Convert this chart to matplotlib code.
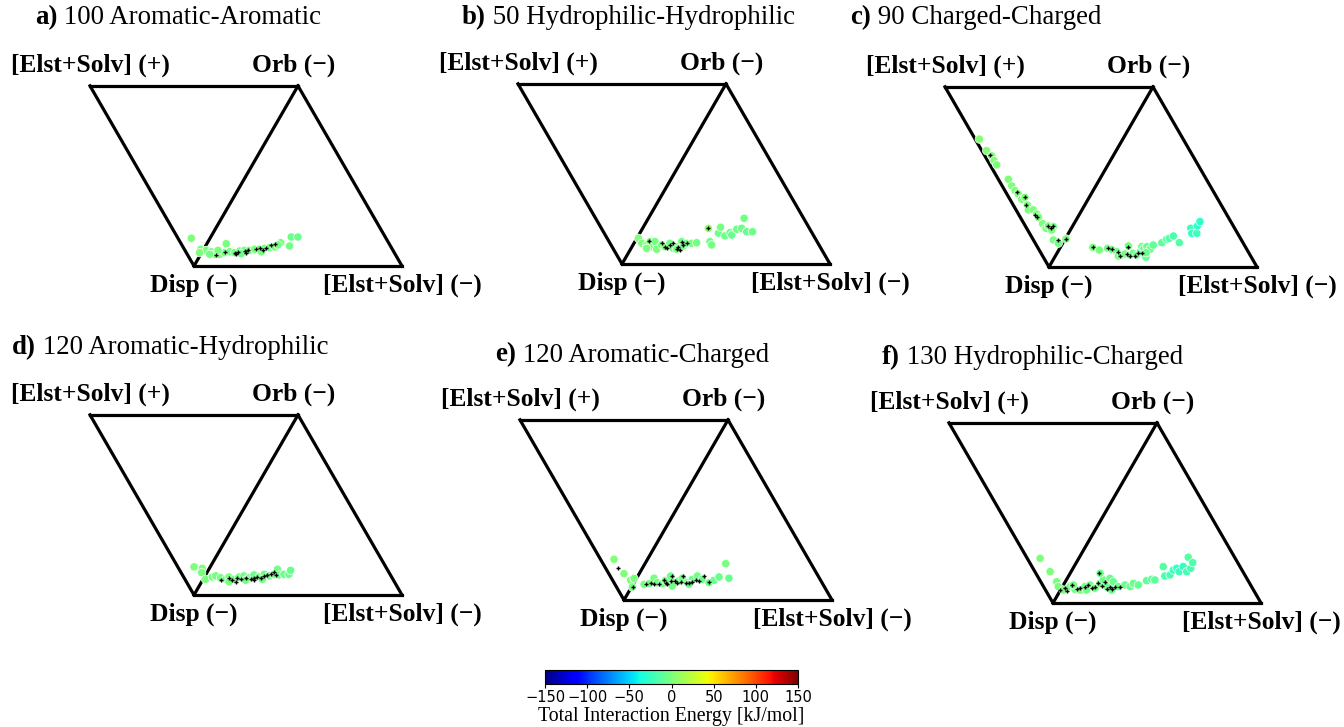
import numpy as np
import matplotlib
matplotlib.use("Agg")
import matplotlib.pyplot as plt
from matplotlib.colors import Normalize

# ---------------- data (ternary fractions: orb fraction, signed elst fraction; energies kJ/mol) ----------------
titles_bold = ["a)", "b)", "c)", "d)", "e)", "f)"]
titles_rest = [" 100 Aromatic-Aromatic", " 50 Hydrophilic-Hydrophilic", " 90 Charged-Charged",
               " 120 Aromatic-Hydrophilic", " 120 Aromatic-Charged", " 130 Hydrophilic-Charged"]
vertex_labels = ["[Elst+Solv] (+)", "Orb (\u2212)", "Disp (\u2212)", "[Elst+Solv] (\u2212)"]

orb_a = [.064,.124,.161,.161,.111,.129,.079,.087,.079,.064,.065,.065,.074,.079,.074,.083,.087,.087,.093,.093,.098,.102,.106,.117,.079,.068,.087,.065]
elst_a = [.090,-.093,-.387,-.419,-.404,-.352,.014,-.015,-.044,.010,-.067,-.091,-.111,-.132,-.159,-.178,-.200,-.224,-.245,-.269,-.291,-.313,-.335,-.345,-.284,-.193,-.072,-.043]
energy_a = [1,-1,-5,-7,-3,-2,0,-1,-2,1,-1,-3,-2,-4,-1,-3,-2,-5,-1,-3,-2,-4,-1,-3,-2,-5,-1,-3]
mark_orb_a = [.061,.079,.074,.079,.083,.087,.093,.098,.087,.102,.117,.124,.068,.074]
mark_elst_a = [-.077,-.108,-.159,-.172,-.202,-.216,-.253,-.267,-.288,-.297,-.313,-.326,-.169,-.214]

orb_b = [.143,.115,.106,.124,.096,.124,.082,.106,.096,.115,.087,.096,.124,.100,.115,.115,.118,.082,.198,.124,.106,.171,.204,.156,.174,.161,.193,.198,.254,.179,.179,.087]
elst_b = [-.007,-.038,-.066,-.073,-.095,-.097,-.126,-.138,-.159,-.173,-.203,-.223,-.225,-.245,-.253,-.277,-.300,-.222,-.316,-.361,-.378,-.378,-.372,-.417,-.432,-.447,-.455,-.476,-.460,-.510,-.538,-.075]
energy_b = [1,-1,0,-2,-1,-3,0,-2,-1,-3,-2,-1,-3,-2,-4,-1,-3,-2,8,-5,-3,-4,-2,-5,-3,-6,-4,-5,-3,-7,-5,-1]
mark_orb_b = [.129,.118,.096,.106,.115,.082,.096,.124,.106,.115,.198,.087,.078]
mark_elst_b = [-.067,-.132,-.159,-.178,-.186,-.222,-.223,-.225,-.242,-.253,-.316,-.171,-.240]

orb_c = [.020,.023,.033,.031,.032,.048,.046,.049,.055,.057,.078,.068,.059,.083,.088,.087,.090,.093,.111,.133,.116,.096,.111,.156,
         .109,.094,.104,.098,.085,.061,.067,.072,.117,.067,.076,.067,.085,.113,.104,.113,.054,.098,.122,.135,.154,.159,.172,.135,.215,.187,.187,.228,.252,.079]
elst_c = [.690,.623,.584,.560,.535,.439,.404,.375,.351,.319,.309,.276,.258,.234,.206,.189,.150,.122,.117,.091,.090,.054,.021,-.004,
          -.156,-.195,-.230,-.252,-.283,-.303,-.316,-.329,-.323,-.356,-.367,-.389,-.396,-.390,-.405,-.414,-.439,-.437,-.440,-.475,-.489,-.499,-.512,-.559,-.574,-.593,-.617,-.599,-.600,-.427]
energy_c = [3,2,1,2,1,1,0,1,0,1,0,1,-1,0,-1,0,-1,-2,-1,-2,-1,-2,-3,-1,
            -1,-2,-3,-2,-4,-3,-5,-4,-3,-5,-6,-5,-7,-6,-8,-7,-9,-8,-10,-11,-13,-15,-17,-15,-23,-25,-23,-27,-28,-7]
mark_orb_c = [.027,.054,.078,.061,.077,.082,.111,.116,.135,.120,.156,.109,.104,.098,.085,.061,.109,.072,.061,.061,.079,.076]
mark_elst_c = [.595,.364,.309,.283,.211,.194,.117,.099,.093,.030,-.004,-.156,-.230,-.252,-.291,-.311,-.327,-.338,-.359,-.383,-.390,-.408]

orb_d = [.078,.114,.099,.087,.100,.106,.096,.087,.100,.087,.100,.106,.096,.111,.100,.115,.106,.115,.143,.111,.115,.115,.137,.074,.082,.087]
elst_d = [.078,.034,.025,-.012,-.038,-.051,-.080,-.109,-.118,-.149,-.166,-.187,-.216,-.233,-.263,-.280,-.308,-.327,-.330,-.353,-.375,-.399,-.396,-.131,-.207,-.285]
energy_d = [1,0,-1,-2,-1,-3,-2,-4,-1,-3,-2,-4,-3,-5,-2,-4,-3,-5,-4,-6,-5,-7,-6,-2,-3,-4]
mark_orb_d = [.082,.093,.082,.096,.087,.093,.087,.096,.100,.096,.106,.111,.118,.129,.111,.082,.074]
mark_elst_d = [-.087,-.122,-.143,-.160,-.181,-.202,-.229,-.240,-.254,-.273,-.284,-.297,-.310,-.320,-.337,-.247,-.163]

orb_e = [.065,.073,.087,.108,.072,.087,.091,.121,.096,.091,.109,.133,.096,.106,.121,.096,.115,.133,.115,.096,.109,.128,.202,.121,.078,.087]
elst_e = [.161,.073,.023,.012,-.004,-.053,-.075,-.084,-.112,-.139,-.146,-.158,-.192,-.211,-.220,-.256,-.271,-.286,-.319,-.361,-.378,-.393,-.388,-.444,-.193,-.269]
energy_e = [2,1,0,-1,-2,-1,-3,-2,-4,-3,-2,-4,-3,-5,-4,-3,-5,-4,-6,-5,-7,-6,-1,-8,-3,-5]
mark_orb_e = [.063,.072,.091,.096,.087,.091,.096,.087,.106,.133,.106,.096,.102,.133,.096,.096,.102,.109,.106,.133,.102,.109]
mark_elst_e = [.116,-.007,-.059,-.080,-.101,-.123,-.152,-.165,-.172,-.166,-.192,-.208,-.222,-.218,-.249,-.265,-.277,-.291,-.308,-.319,-.358,-.138]

orb_f = [.062,.073,.077,.071,.072,.091,.076,.072,.091,.100,.082,.109,.128,.091,.137,.118,.091,.100,.091,.109,.100,.124,.132,.128,.202,.150,.156,.183,.193,.174,.202,.174,.254,.193,.224,.165,.100,.072,.072]
elst_f = [.186,.101,.041,.020,-.014,-.036,-.068,-.094,-.108,-.128,-.161,-.171,-.178,-.213,-.205,-.231,-.269,-.296,-.325,-.332,-.360,-.388,-.409,-.426,-.429,-.463,-.485,-.487,-.499,-.520,-.525,-.556,-.523,-.566,-.560,-.144,-.048,-.126,-.246]
energy_f = [1,0,-1,-1,-2,-2,-3,-2,-3,-4,-3,-4,-5,-4,-5,-6,-5,-6,-7,-6,-8,-9,-10,-11,-15,-17,-19,-23,-25,-23,-26,-21,-13,-19,-17,-5,-3,-4,-6]
mark_orb_f = [.072,.082,.100,.076,.082,.091,.100,.082,.091,.165,.109,.094,.118,.076,.091,.076,.091,.091,.068]
mark_elst_f = [.000,-.017,-.040,-.076,-.089,-.108,-.120,-.145,-.157,-.141,-.164,-.187,-.191,-.220,-.229,-.244,-.253,-.277,-.032]

cbar_ticks = [-150, -100, -50, 0, 50, 100, 150]
cbar_label = "Total Interaction Energy [kJ/mol]"

# ---------------- layout ----------------
W, H = 1344, 727
SIDE = 208.0
HT = np.sqrt(3) / 2
panel_pos = [(90, 266), (518, 264), (945, 267), (90, 595), (520, 600), (949, 603)]
title_pos = [(35, 18), (462, 18), (850, 18), (12, 348), (495, 355), (882, 358)]
TITLE_SIZE = 19.4

panels = [
    (orb_a, elst_a, energy_a, mark_orb_a, mark_elst_a),
    (orb_b, elst_b, energy_b, mark_orb_b, mark_elst_b),
    (orb_c, elst_c, energy_c, mark_orb_c, mark_elst_c),
    (orb_d, elst_d, energy_d, mark_orb_d, mark_elst_d),
    (orb_e, elst_e, energy_e, mark_orb_e, mark_elst_e),
    (orb_f, elst_f, energy_f, mark_orb_f, mark_elst_f),
]

SERIF = ["Liberation Serif", "DejaVu Serif"]


def to_xy(orb, elst):
    orb = np.asarray(orb, float)
    elst = np.asarray(elst, float)
    rep = np.clip(elst, 0, None)
    att = np.clip(-elst, 0, None)
    x = 0.5 * orb - 0.5 * rep + att
    y = HT * (orb + rep)
    return x, y


fig = plt.figure(figsize=(W / 100, H / 100), dpi=100)
cmap = plt.get_cmap("jet")
norm = Normalize(vmin=-150, vmax=150)

for i, (orb, elst, en, morb, melst) in enumerate(panels):
    lx, dy_px = panel_pos[i]
    ax = fig.add_axes([lx / W, 1 - dy_px / H, 1.5 * SIDE / W, HT * SIDE / H])
    ax.set_xlim(-0.5, 1.0)
    ax.set_ylim(0, HT)
    ax.axis("off")
    segs = [((-0.5, HT), (0.5, HT)), ((-0.5, HT), (0, 0)), ((0, 0), (0.5, HT)),
            ((0.5, HT), (1.0, 0)), ((0, 0), (1.0, 0))]
    for (x0, y0), (x1, y1) in segs:
        ax.plot([x0, x1], [y0, y1], color="black", lw=2.3, solid_capstyle="projecting", clip_on=False, zorder=1)
    x, y = to_xy(orb, elst)
    ax.scatter(x, y, c=en, cmap=cmap, norm=norm, s=36, edgecolors="white", linewidths=0.5, zorder=3, clip_on=False)
    mx, my = to_xy(morb, melst)
    ax.scatter(mx, my, marker="+", color="black", s=9, linewidths=1.0, zorder=4, clip_on=False)

    kw = dict(family=SERIF, fontweight="bold", fontsize=18.4, ha="center", va="center", clip_on=False)
    ax.text(-0.5, HT + 0.098, vertex_labels[0], **kw)
    ax.text(0.48, HT + 0.098, vertex_labels[1], **kw)
    ax.text(0.0, -0.095, vertex_labels[2], **kw)
    ax.text(1.0, -0.095, vertex_labels[3], **kw)

fig.canvas.draw()
renderer = fig.canvas.get_renderer()
for i in range(6):
    tx, ty = title_pos[i]
    t1 = fig.text(tx / W, 1 - ty / H, titles_bold[i], family=SERIF, fontweight="bold", fontsize=TITLE_SIZE,
                  ha="left", va="center")
    bb = t1.get_window_extent(renderer=renderer)
    fig.text(bb.x1 / W, 1 - ty / H, titles_rest[i], family=SERIF, fontsize=TITLE_SIZE, ha="left", va="center")

cax = fig.add_axes([545 / W, 1 - 684 / H, 253 / W, 14 / H])
sm = matplotlib.cm.ScalarMappable(norm=norm, cmap=cmap)
cb = fig.colorbar(sm, cax=cax, orientation="horizontal", ticks=cbar_ticks)
cb.ax.tick_params(labelsize=10.5, length=3, width=0.8, pad=1.5)
for lab in cb.ax.get_xticklabels():
    lab.set_family("DejaVu Sans")
cb.outline.set_linewidth(0.8)
cb.set_label(cbar_label, family=SERIF, fontsize=14.3, labelpad=1)

fig.savefig("out.png", dpi=100)
